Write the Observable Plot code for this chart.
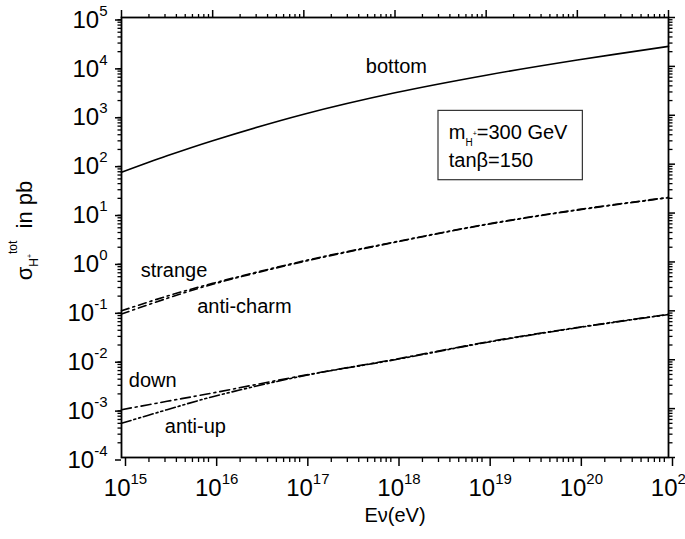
<!DOCTYPE html>
<html><head><meta charset="utf-8">
<script src="https://cdn.jsdelivr.net/npm/d3@7"></script>
<script src="https://cdn.jsdelivr.net/npm/@observablehq/plot@0.6"></script>
<style>html,body{margin:0;padding:0;background:#fff}</style>
</head><body><div id="chart"></div>
<script>
// ---- data ----
const energy    = [1e15, 3.16e15, 1e16, 1e17, 1e18, 1e19, 1e20, 1e21];
const bottom    = [68, 148, 302, 1050, 2880, 6600, 13500, 25700];
const strange   = [0.100, 0.20, 0.365, 1.05, 2.57, 5.9, 11.7, 20.9];
const antiCharm = [0.086, 0.18, 0.35, 1.02, 2.52, 5.8, 11.5, 20.6];
const down      = [9.5e-4, 1.41e-3, 2.09e-3, 4.79e-3, 1.02e-2, 2.29e-2, 4.57e-2, 8.5e-2];
const antiUp    = [5.0e-4, 9.5e-4, 1.75e-3, 4.7e-3, 1.0e-2, 2.25e-2, 4.5e-2, 8.4e-2];

const seriesNames  = ["bottom", "strange", "anti-charm", "down", "anti-up"];
const seriesValues = [bottom, strange, antiCharm, down, antiUp];
const seriesDash   = ["none", "8,4,2,4", "8,4,2,4", "10,4,2,4", "10,3,2,3,2,3"];

// curve labels
const labelText  = ["bottom", "strange", "anti-charm", "down", "anti-up"];
const labelE     = [10**17.68, 10**15.21, 10**15.83, 10**15.08, 10**15.475];
const labelSigma = [10**3.855, 10**-0.305, 10**-1.053, 10**-2.566, 10**-3.495];

// parameter box
const boxE = [3.0e18, 1.15e20];
const boxSigma = [47, 1230];
const boxText  = ["m_H+=300 GeV", "tanβ=150"];
const boxTextE = [10**18.59, 10**18.59];
const boxTextSigma = [10**2.511, 10**1.945];

// axes
const xMajor = [1e15, 1e16, 1e17, 1e18, 1e19, 1e20, 1e21];
const yMajor = [1e-4, 1e-3, 1e-2, 1e-1, 1e0, 1e1, 1e2, 1e3, 1e4, 1e5];
const xMinor = [], yMinor = [];
for (let e = 15; e < 21; e++) for (let m = 2; m <= 9; m++) xMinor.push(m * 10 ** e);
for (let e = -4; e < 5; e++) for (let m = 2; m <= 9; m++) yMinor.push(m * 10 ** e);
const xTitle = ["Eν(eV)"];
const yTitle = ["σ_H+^tot in pb"];

const rows = [];
seriesNames.forEach((s, i) => energy.forEach((E, j) => rows.push({series: s, E, sigma: seriesValues[i][j]})));
const expFmt = d => "10^" + Math.round(Math.log10(d));
const blank = () => "";

const lineMarks = seriesNames.map((s, i) =>
  Plot.line(rows.filter(r => r.series === s), {
    x: "E", y: "sigma", stroke: "black", strokeWidth: 1.6,
    strokeDasharray: seriesDash[i] === "none" ? undefined : seriesDash[i],
    curve: "catmull-rom"
  }));

const chart = Plot.plot({
  width: 685, height: 539,
  marginLeft: 121, marginRight: 17, marginTop: 17, marginBottom: 82,
  style: {fontFamily: "'Liberation Sans', Arial, sans-serif", background: "#fff", color: "#000"},
  x: {type: "log", domain: [1e15, 1e21], label: null},
  y: {type: "log", domain: [1e-4, 1e5], label: null},
  marks: [
    Plot.axisX(xMinor, {anchor: "bottom", tickSize: 5, tickFormat: blank, label: null, strokeWidth: 1.3}),
    Plot.axisX(xMajor, {anchor: "bottom", tickSize: 9, tickPadding: 12, tickFormat: expFmt, fontSize: 24, dx: 4, label: null, strokeWidth: 1.5}),
    Plot.axisX(xMinor, {anchor: "top", tickSize: 4, tickFormat: blank, label: null, strokeWidth: 1.3}),
    Plot.axisX(xMajor, {anchor: "top", tickSize: 8, tickFormat: blank, label: null, strokeWidth: 1.5}),
    Plot.axisY(yMinor, {anchor: "left", tickSize: 3.5, tickFormat: blank, label: null, strokeWidth: 1.3}),
    Plot.axisY(yMajor, {anchor: "left", tickSize: 6, tickPadding: 8, tickFormat: expFmt, fontSize: 24, dy: 2.5, label: null, strokeWidth: 1.5}),
    Plot.axisY(yMinor, {anchor: "right", tickSize: 3.5, tickFormat: blank, label: null, strokeWidth: 1.3}),
    Plot.axisY(yMajor, {anchor: "right", tickSize: 6, tickFormat: blank, label: null, strokeWidth: 1.5}),
    ...lineMarks,
    Plot.text(labelText, {x: (d, i) => labelE[i], y: (d, i) => labelSigma[i], text: d => d,
      textAnchor: "start", lineAnchor: "bottom", fontSize: 20}),
    Plot.rect([0], {x1: boxE[0], x2: boxE[1], y1: boxSigma[0], y2: boxSigma[1], fill: "none", stroke: "#333", strokeWidth: 1.2}),
    Plot.text(boxText, {x: (d, i) => boxTextE[i], y: (d, i) => boxTextSigma[i], text: d => d,
      textAnchor: "start", lineAnchor: "bottom", fontSize: 20}),
    Plot.text(xTitle, {frameAnchor: "bottom", text: d => d, dy: 64, lineAnchor: "bottom", fontSize: 20}),
    Plot.text(yTitle, {frameAnchor: "left", text: d => d, rotate: -90, dx: -90, dy: -7, textAnchor: "middle", lineAnchor: "bottom", fontSize: 22}),
    Plot.frame({stroke: "black", strokeWidth: 1.8})
  ]
});
document.getElementById("chart").appendChild(chart);

// rich text (sub/superscripts) as tspans
function setRich(el, parts) {
  const t = d3.select(el); t.text(null);
  let cur = 0;
  for (const p of parts) {
    const s = t.append("tspan").text(p.t);
    if (p.size) s.attr("font-size", p.size);
    const shift = p.shift || 0;
    if (shift !== cur) s.attr("dy", shift - cur);
    cur = shift;
  }
}
d3.select(chart).selectAll("text").each(function () {
  const s = this.textContent;
  let m;
  if ((m = /^10\^(-?\d+)$/.exec(s))) {
    setRich(this, [{t: "10"}, {t: m[1], size: 15, shift: -12}]);
  } else if (s === "m_H+=300 GeV") {
    setRich(this, [{t: "m"}, {t: "H", size: 10, shift: 7}, {t: "+", size: 7, shift: -3}, {t: "=300 GeV", shift: 0}]);
  } else if (s === "σ_H+^tot in pb") {
    setRich(this, [{t: "σ"}, {t: "H", size: 12, shift: 6}, {t: "+", size: 7, shift: 0}, {t: "tot", size: 12, shift: -15}, {t: "  in pb", shift: 0}]);
  }
});
</script>
</body></html>
